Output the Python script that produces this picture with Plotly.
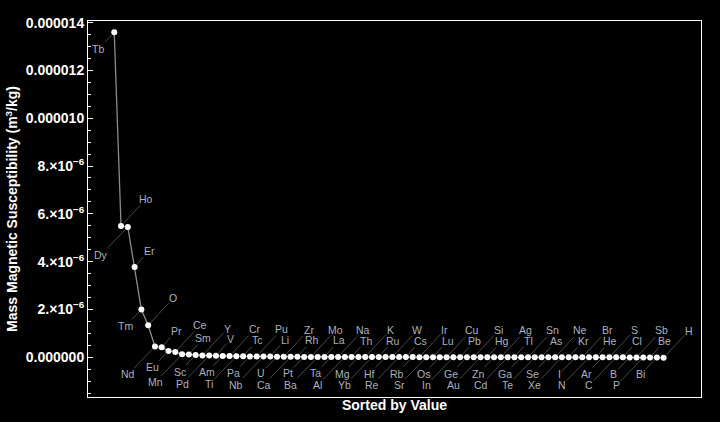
import plotly.graph_objects as go

# Elements sorted by mass magnetic susceptibility (descending)
elements = ["Tb", "Ho", "Dy", "Er", "Tm", "O", "Nd", "Pr", "Eu", "Ce",
            "Mn", "Sm", "Sc", "Y", "Pd", "V", "Am", "Cr", "Ti", "Tc",
            "Pa", "Pu", "Nb", "Li", "U", "Zr", "Ca", "Rh", "Pt", "Mo",
            "Ba", "La", "Ta", "Na", "Al", "Th", "Mg", "K", "Yb", "Ru",
            "Hf", "W", "Re", "Cs", "Rb", "Ir", "Sr", "Lu", "Os", "Cu",
            "In", "Pb", "Ge", "Si", "Au", "Hg", "Zn", "Ag", "Cd", "Tl",
            "Ga", "Sn", "Te", "As", "Se", "Ne", "Xe", "Kr", "I", "Br",
            "N", "He", "Ar", "S", "C", "Cl", "B", "Sb", "P", "Be",
            "Bi", "H"]

susceptibility = [1.36e-5, 5.49e-6, 5.45e-6, 3.77e-6, 1.99e-6, 1.335e-6, 4.5e-7, 4.2e-7, 2.6e-7, 2.2e-7,
                  1.21e-7, 1.11e-7, 8.8e-8, 6.66e-8, 6.57e-8, 6.28e-8, 5.15e-8, 4.45e-8, 4.01e-8, 3.4e-8,
                  3.25e-8, 3.2e-8, 2.81e-8, 2.56e-8, 2.16e-8, 1.66e-8, 1.38e-8, 1.36e-8, 1.22e-8, 1.17e-8,
                  1.13e-8, 1.1e-8, 1.07e-8, 8.8e-9, 7.8e-9, 7.2e-9, 6.9e-9, 6.7e-9, 5.9e-9, 5.4e-9,
                  5.3e-9, 4.59e-9, 4.56e-9, 2.8e-9, 2.6e-9, 1.67e-9, 1.32e-9, 1.2e-9, 6e-10, -1.08e-9,
                  -1.4e-9, -1.5e-9, -1.5e-9, -1.6e-9, -1.78e-9, -2.1e-9, -2.21e-9, -2.27e-9, -2.3e-9, -3.0e-9,
                  -3.0e-9, -3.1e-9, -3.9e-9, -3.9e-9, -4.0e-9, -4.2e-9, -4.3e-9, -4.4e-9, -4.45e-9, -4.9e-9,
                  -5.4e-9, -5.9e-9, -6.0e-9, -6.2e-9, -6.2e-9, -7.2e-9, -8.7e-9, -1.09e-8, -1.13e-8, -1.3e-8,
                  -1.7e-8, -2.5e-8]

rank = list(range(1, len(elements) + 1))

tick_values = [0, 2e-6, 4e-6, 6e-6, 8e-6, 1.0e-5, 1.2e-5, 1.4e-5]
tick_labels = ["0.000000", "2.\u00d710<sup>\u22126</sup>", "4.\u00d710<sup>\u22126</sup>",
               "6.\u00d710<sup>\u22126</sup>", "8.\u00d710<sup>\u22126</sup>",
               "0.000010", "0.000012", "0.000014"]

FONT = "Liberation Sans, Arial, Helvetica, sans-serif"
LABEL_COLOR = "#aab2bf"
LEADER_COLOR = "#5a5a5a"

fig = go.Figure()
fig.add_trace(go.Scatter(
    x=rank, y=susceptibility, mode="lines+markers",
    line=dict(color="#8c8c8c", width=1.3),
    marker=dict(color="white", size=6, line=dict(width=0)),
    hoverinfo="text", text=elements, showlegend=False,
))

# callout placement cycles through four slots (lower-near, upper-far, lower-far, upper-near)
slots = [(-16, 16.5), (25, -27), (-27, 28), (14.5, -16.5)]
annotations = []
for i, (el, v) in enumerate(zip(elements, susceptibility)):
    ax, ay = slots[i % 4]
    annotations.append(dict(
        x=rank[i], y=v, xref="x", yref="y", text=el,
        showarrow=True, arrowhead=0, arrowwidth=0.8, arrowcolor=LEADER_COLOR,
        ax=ax, ay=ay, standoff=3, startstandoff=0,
        font=dict(family=FONT, size=10.5, color=LABEL_COLOR),
        borderpad=0,
    ))

fig.update_layout(
    width=720, height=422,
    margin=dict(l=87, r=19, t=21, b=23),
    paper_bgcolor="black", plot_bgcolor="black",
    font=dict(family=FONT, color="white"),
    annotations=annotations,
    showlegend=False,
)

fig.update_xaxes(
    range=[-2.87, 87.51], showgrid=False, zeroline=False,
    showticklabels=False, ticks="",
    showline=True, mirror=True, linecolor="white", linewidth=1,
    title=dict(text="<b>Sorted by Value</b>", font=dict(size=14, color="white", family=FONT), standoff=3),
)
fig.update_yaxes(
    range=[-1.667e-6, 14.07e-6], showgrid=False, zeroline=False,
    tickmode="array", tickvals=tick_values, ticktext=tick_labels,
    ticks="inside", ticklen=4.5, tickwidth=1, tickcolor="white",
    tickfont=dict(size=14, color="white", family=FONT, weight="bold"),
    minor=dict(ticks="inside", dtick=0.5e-6, tick0=0, ticklen=2.5, tickwidth=1, tickcolor="white", showgrid=False),
    showline=True, mirror=True, linecolor="white", linewidth=1,
    title=dict(text="<b>Mass Magnetic Susceptibility (m<sup>3</sup>/kg)</b>",
               font=dict(size=14, color="white", family=FONT), standoff=4),
)

fig.write_html(
    "out.html",
    config={"displayModeBar": False},
    post_script="document.body.style.margin='0';document.body.style.background='black';",
)
